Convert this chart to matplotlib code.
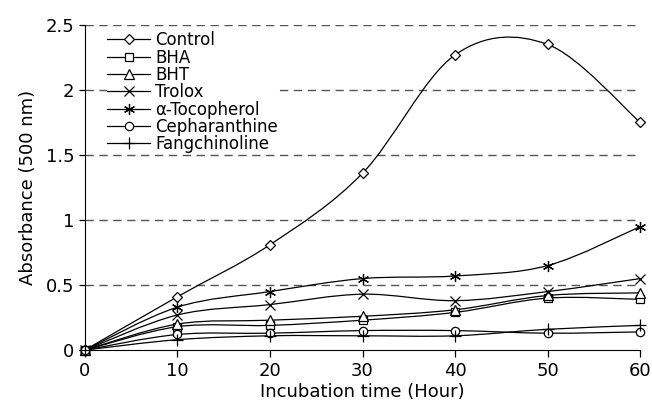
"""Absorbance (500 nm) vs incubation time for several antioxidants."""
import matplotlib
matplotlib.use("Agg")
import matplotlib.pyplot as plt
from matplotlib.path import Path
from matplotlib.patches import PathPatch
from matplotlib.lines import Line2D

plt.rcParams["font.family"] = ["DejaVu Sans"]

hours = [0, 10, 20, 30, 40, 50, 60]

control = [0.0, 0.41, 0.81, 1.36, 2.27, 2.35, 1.75]
bha = [0.0, 0.18, 0.19, 0.23, 0.29, 0.40, 0.39]
bht = [0.0, 0.20, 0.23, 0.26, 0.31, 0.42, 0.44]
trolox = [0.0, 0.27, 0.35, 0.43, 0.38, 0.45, 0.55]
tocopherol = [0.0, 0.33, 0.45, 0.55, 0.57, 0.65, 0.95]
cepharanthine = [0.0, 0.12, 0.13, 0.15, 0.15, 0.13, 0.14]
fangchinoline = [0.0, 0.08, 0.11, 0.11, 0.11, 0.16, 0.19]

SERIES = [
    ("Control", control, "D", 5),
    ("BHA", bha, "s", 5.5),
    ("BHT", bht, "^", 6.5),
    ("Trolox", trolox, "x", 7),
    ("\u03b1-Tocopherol", tocopherol, (6, 2, 0), 8),
    ("Cepharanthine", cepharanthine, "o", 6),
    ("Fangchinoline", fangchinoline, "+", 8),
]


def smooth_path(xs, ys):
    # Excel-like smoothed line: cubic Bezier segments through the data points
    n = len(xs)
    verts = [(xs[0], ys[0])]
    codes = [Path.MOVETO]
    for i in range(n - 1):
        x0, y0 = (xs[i - 1], ys[i - 1]) if i > 0 else (xs[i], ys[i])
        x1, y1 = xs[i], ys[i]
        x2, y2 = xs[i + 1], ys[i + 1]
        x3, y3 = (xs[i + 2], ys[i + 2]) if i + 2 < n else (x2, y2)
        c1 = (x1 + (x2 - x0) / 6, y1 + (y2 - y0) / 6)
        c2 = (x2 - (x3 - x1) / 6, y2 - (y3 - y1) / 6)
        verts += [c1, c2, (x2, y2)]
        codes += [Path.CURVE4] * 3
    return Path(verts, codes)


fig = plt.figure(figsize=(6.52, 4.09), dpi=100)
ax = fig.add_axes([0.130, 0.144, 0.852, 0.795])

for yv in [0.5, 1.0, 1.5, 2.0, 2.5]:
    ax.axhline(yv, color="#555555", linestyle=(0, (6, 4)), linewidth=1.0, zorder=1)

handles = []
for name, vals, mk, ms in SERIES:
    ax.add_patch(PathPatch(smooth_path(hours, vals), facecolor="none",
                           edgecolor="black", linewidth=0.9, zorder=2))
    ax.plot(hours, vals, linestyle="none", marker=mk, markersize=ms,
            markerfacecolor="white", markeredgecolor="black",
            markeredgewidth=0.9, zorder=3, clip_on=False)
    handles.append(Line2D([], [], color="black", linewidth=0.9, marker=mk,
                          markersize=ms, markerfacecolor="white",
                          markeredgecolor="black", markeredgewidth=0.9))

ax.set_xlim(0, 60)
ax.set_ylim(0, 2.5)
ax.set_xticks(hours)
ax.set_yticks([0, 0.5, 1, 1.5, 2, 2.5])
ax.set_yticklabels(["0", "0.5", "1", "1.5", "2", "2.5"])
ax.spines["top"].set_visible(False)
ax.spines["right"].set_visible(False)
ax.tick_params(labelsize=13, length=5, width=0.9, direction="out")
ax.tick_params(axis="y", length=4)
ax.set_xlabel("Incubation time (Hour)", fontsize=13, labelpad=2)
ax.set_ylabel("Absorbance (500 nm)", fontsize=13, labelpad=6)

leg = ax.legend(handles, [s[0] for s in SERIES], loc="upper left",
                bbox_to_anchor=(0.031, 0.996), frameon=True, fontsize=12,
                labelspacing=-0.04, handlelength=2.6, handletextpad=0.3,
                borderpad=0.0, borderaxespad=0.3, fancybox=False,
                framealpha=1.0)
leg.get_frame().set_facecolor("white")
leg.get_frame().set_edgecolor("none")
leg.set_zorder(5)

fig.savefig("out.png", dpi=100)
